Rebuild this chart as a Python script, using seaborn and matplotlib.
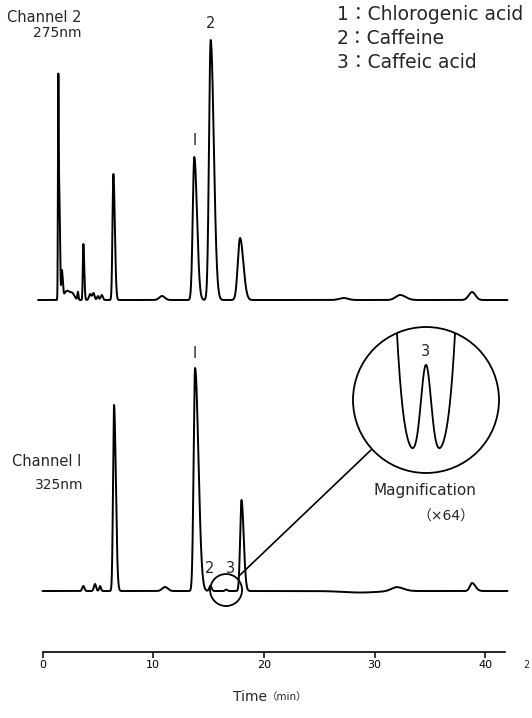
import numpy as np
import pandas as pd
import matplotlib
matplotlib.use("Agg")
import matplotlib.pyplot as plt
from matplotlib.patches import Ellipse, Circle
import seaborn as sns

# ---------------- data ----------------
# Channel 2 (275 nm): peak retention times (min), heights (a.u.), left/right widths (min)
ch2_times = [1.43, 1.53, 1.75, 2.2, 2.7, 3.2, 3.69, 4.3, 4.6, 5.0, 5.35, 6.40,
             10.8, 13.71, 15.19, 17.84, 27.2, 32.3, 38.8]
ch2_heights = [222, 95, 28, 9, 6, 8, 56, 6, 7, 4, 5, 126,
               4, 143, 260, 62, 2, 5, 8]
ch2_sig_l = [0.035, 0.04, 0.05, 0.25, 0.2, 0.05, 0.05, 0.1, 0.1, 0.08, 0.1, 0.08,
             0.25, 0.14, 0.15, 0.20, 0.4, 0.4, 0.3]
ch2_sig_r = [0.04, 0.06, 0.08, 0.25, 0.2, 0.05, 0.08, 0.1, 0.1, 0.08, 0.1, 0.13,
             0.25, 0.24, 0.28, 0.30, 0.4, 0.5, 0.3]

# Channel 1 (325 nm)
ch1_times = [3.69, 4.74, 5.2, 6.46, 11.07, 13.78, 15.15, 16.6, 17.97, 28.7, 32.0, 38.8]
ch1_heights = [5, 7, 5, 186, 4, 223, 5, 1.5, 91, -1.5, 4, 8]
ch1_sig_l = [0.1, 0.1, 0.08, 0.09, 0.25, 0.13, 0.10, 0.1, 0.12, 1.5, 0.5, 0.2]
ch1_sig_r = [0.1, 0.1, 0.08, 0.16, 0.25, 0.30, 0.12, 0.1, 0.20, 1.5, 0.6, 0.3]

# Magnified (x64) view around caffeic acid (peak 3)
mag_times = [15.64, 16.60, 17.56]
mag_heights = [570, 91, 570]
mag_sig = [0.23, 0.096, 0.23]

peak_labels_ch2 = {"I": 13.71, "2": 15.19}
peak_labels_ch1 = {"I": 13.78}
legend_lines = ["1：Chlorogenic acid", "2：Caffeine", "3：Caffeic acid"]
x_ticks = [0, 10, 20, 30, 40]
ch2_offset = 291


def bigauss(t, times, heights, sl, sr):
    y = np.zeros_like(t)
    for c, h, a, b in zip(times, heights, sl, sr):
        s = np.where(t < c, a, b)
        y += h * np.exp(-0.5 * ((t - c) / s) ** 2)
    return y


t2 = np.linspace(-0.4, 42.0, 9000)
t1 = np.linspace(0.0, 42.0, 9000)
df2 = pd.DataFrame({"time": t2,
                    "signal": ch2_offset + bigauss(t2, ch2_times, ch2_heights, ch2_sig_l, ch2_sig_r)})
df1 = pd.DataFrame({"time": t1,
                    "signal": bigauss(t1, ch1_times, ch1_heights, ch1_sig_l, ch1_sig_r)})
tm = np.linspace(15.2, 18.0, 2000)
dfm = pd.DataFrame({"time": tm,
                    "signal": bigauss(tm, mag_times, mag_heights, mag_sig, mag_sig)})

# ---------------- figure ----------------
sns.set_theme(style="white")
plt.rcParams["font.family"] = ["DejaVu Sans", "Noto Sans CJK JP"]

W, H = 532, 718
fig = plt.figure(figsize=(W / 100, H / 100), dpi=100)
ax = fig.add_axes([0.0695, 0.0923, 0.8907, 0.9077])
ax.set_facecolor("none")

sns.lineplot(data=df2, x="time", y="signal", ax=ax, color="black",
             linewidth=1.4, estimator=None, sort=False)
sns.lineplot(data=df1, x="time", y="signal", ax=ax, color="black",
             linewidth=1.4, estimator=None, sort=False)

ax.set_xlim(-0.5, 42.3)
ax.set_ylim(-60.7, 591)
ax.set_xticks(x_ticks)
ax.set_xticklabels([str(v) for v in x_ticks], fontsize=8)
ax.set_yticks([])
ax.set_xlabel("")
ax.set_ylabel("")
for s in ["left", "right", "top"]:
    ax.spines[s].set_visible(False)
ax.spines["bottom"].set_bounds(0, 41.8)
ax.spines["bottom"].set_linewidth(1.2)
ax.spines["bottom"].set_color("black")
ax.tick_params(axis="x", direction="out", length=4.5, width=1.1, pad=1.5,
               colors="black", bottom=True)

# peak labels
for lab, tt in peak_labels_ch2.items():
    i = ch2_times.index(tt)
    ax.text(tt, ch2_offset + ch2_heights[i] + 17, lab, ha="center", va="center", fontsize=10.5)
for lab, tt in peak_labels_ch1.items():
    i = ch1_times.index(tt)
    ax.text(tt, ch1_heights[i] + 15, lab, ha="center", va="center", fontsize=10.5)
ax.text(15.13, 23, "2", ha="center", va="center", fontsize=10.5)
ax.text(16.94, 23, "3", ha="center", va="center", fontsize=10.5)

# small circle + connector
ax.add_patch(Ellipse((16.58, 1), width=2.89, height=32, fill=False,
                     edgecolor="black", linewidth=1.3))
ax.plot([17.84, 29.67], [16, 141], color="black", linewidth=1.2)

# magnified inset
axm = fig.add_axes([353 / W, 1 - 473 / H, 146 / W, 146 / H])
axm.set_facecolor("none")
sns.lineplot(data=dfm, x="time", y="signal", ax=axm, color="black",
             linewidth=1.3, estimator=None, sort=False)
axm.set_xlim(15.2, 18.0)
axm.set_ylim(-17, 129)
axm.axis("off")
circ = Circle((0.5, 0.5), 0.5, transform=axm.transAxes, fill=False,
              edgecolor="black", linewidth=1.3, clip_on=False)
axm.add_patch(circ)
for ln in axm.lines:
    ln.set_clip_path(circ)
axm.text(16.6, 104, "3", ha="center", va="center", fontsize=10.5)


def ftext(px, py, s, **kw):
    fig.text(px / W, 1 - py / H, s, **kw)


ftext(7, 18, "Channel 2", ha="left", va="center", fontsize=10.5)
ftext(33, 33, "275nm", ha="left", va="center", fontsize=10)
ftext(12, 462, "Channel I", ha="left", va="center", fontsize=10.5)
ftext(35, 485, "325nm", ha="left", va="center", fontsize=10)
for k, s in enumerate(legend_lines):
    ftext(337, 15 + 24 * k, s, ha="left", va="center", fontsize=13.5)
ftext(425, 490, "Magnification", ha="center", va="center", fontsize=11)
ftext(446, 517, "（×64）", ha="center", va="center", fontsize=10)
ftext(267, 697, "Time", ha="right", va="center", fontsize=10)
ftext(267, 697, "（min）", ha="left", va="center", fontsize=7.5)
ftext(530, 665, "2", ha="right", va="center", fontsize=7)

fig.savefig("out.png", dpi=100)
